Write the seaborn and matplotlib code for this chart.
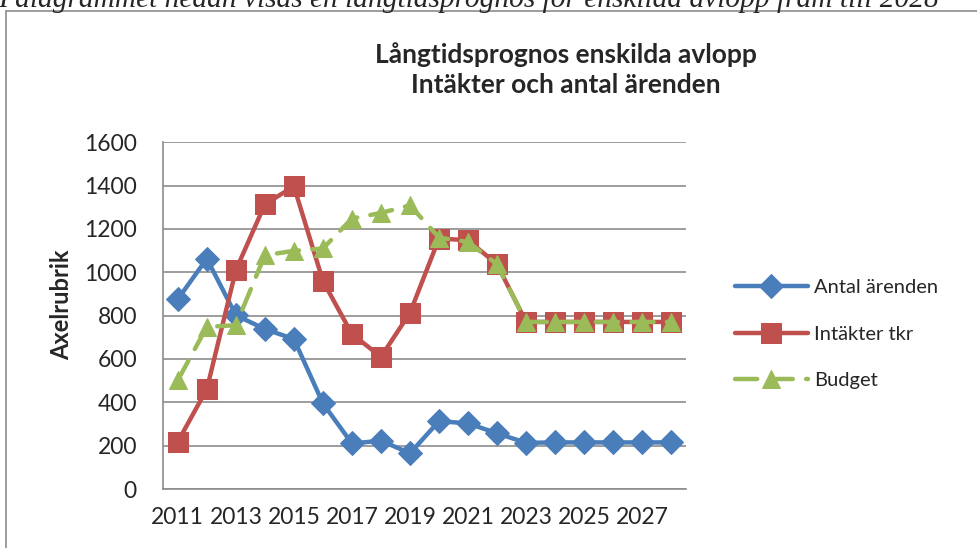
import numpy as np
import pandas as pd
import matplotlib
matplotlib.use("Agg")
import matplotlib.pyplot as plt
from matplotlib.patches import Rectangle
import seaborn as sns

# -------------------------------
# Data
# -------------------------------
years = list(range(2011, 2029))
antal_arenden = [876, 1063, 802, 738, 692, 395, 210, 223, 165, 313, 303, 257, 213, 215, 215, 215, 215, 215]
intakter_tkr = [218, 461, 1010, 1314, 1397, 960, 715, 610, 813, 1156, 1148, 1037, 771, 771, 771, 771, 771, 771]
budget = [502, 748, 756, 1079, 1099, 1110, 1248, 1274, 1309, 1160, 1140, 1037, 771, 771, 771, 771, 771, 771]

series_names = ["Antal ärenden", "Intäkter tkr", "Budget"]
y_ticks = [0, 200, 400, 600, 800, 1000, 1200, 1400, 1600]

blue = "#4A7EBB"
red = "#C0504D"
green = "#9BBB59"
grid_gray = "#8C8C8C"

sns.set_style("white")
plt.rcParams["font.family"] = ["Lato", "DejaVu Sans"]

W, H = 978, 548
fig = plt.figure(figsize=(W / 100, H / 100), dpi=100)
ax = fig.add_axes([163.3 / W, 1 - 489 / H, (685.7 - 163.3) / W, (489 - 142.3) / H])

df = pd.DataFrame({"pos": np.arange(len(years)),
                   "Antal ärenden": antal_arenden,
                   "Intäkter tkr": intakter_tkr,
                   "Budget": budget})

sns.lineplot(data=df, x="pos", y="Antal ärenden", ax=ax, color=blue, linewidth=3.2,
             marker="D", markersize=12.5, markeredgecolor=blue, label=series_names[0], zorder=3)
sns.lineplot(data=df, x="pos", y="Intäkter tkr", ax=ax, color=red, linewidth=3.2,
             marker="s", markersize=14, markeredgecolor=red, label=series_names[1], zorder=4)
sns.lineplot(data=df, x="pos", y="Budget", ax=ax, color=green, linewidth=3.2,
             marker="^", markersize=13.5, markeredgecolor=green, label=series_names[2],
             dashes=(5, 3), dash_capstyle="round", zorder=5)

ax.set_xlim(-0.5, len(years) - 0.5)
ax.set_ylim(0, 1600)
ax.set_yticks(y_ticks)
ax.set_yticklabels([str(v) for v in y_ticks], fontsize=16.5)
ax.set_xticks(np.arange(0, len(years), 2))
ax.set_xticklabels([str(y) for y in years[::2]], fontsize=16.5)
ax.tick_params(axis="y", length=4, color=grid_gray, pad=15)
ax.tick_params(axis="x", length=0, pad=13)
ax.set_xlabel("")
ax.set_ylabel("Axelrubrik", fontsize=17, fontweight="bold")
ax.yaxis.set_label_coords(-0.172, 0.53)

ax.yaxis.grid(True, color=grid_gray, linewidth=1.2)
ax.set_axisbelow(True)
for side in ["top", "right"]:
    ax.spines[side].set_visible(False)
for side in ["left", "bottom"]:
    ax.spines[side].set_color(grid_gray)
    ax.spines[side].set_linewidth(1.2)

leg = ax.legend(loc="center left", bbox_to_anchor=(1.06, 0.447), frameon=False,
                fontsize=14.5, handlelength=3.6, labelspacing=1.45, handletextpad=0.3)

fig.text(566 / W, 1 - 70 / H, "Långtidsprognos enskilda avlopp\nIntäkter och antal ärenden",
         ha="center", va="center", fontsize=19, fontweight="bold", linespacing=1.3)

# cut-off caption line above the chart
fig.text(-0.002, 1 - 7 / H, "I diagrammet nedan visas en långtidsprognos för enskilda avlopp fram till 2028",
         ha="left", va="baseline", fontsize=21.2, style="italic",
         family=["Liberation Serif", "DejaVu Serif"])

# outer chart border
fig.patches.append(Rectangle((6 / W, -0.1), 1.2, 1.1 - 11 / H, transform=fig.transFigure,
                             fill=False, edgecolor="#8C8C8C", linewidth=1.2))

fig.savefig("out.png", dpi=100)
